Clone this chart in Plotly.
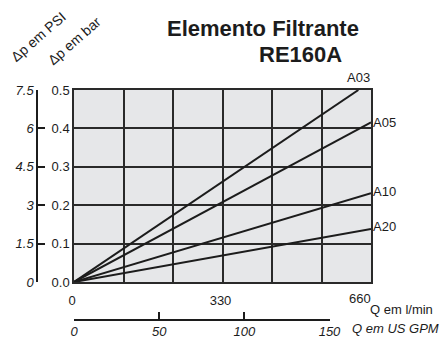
import plotly.graph_objects as go

# ---- data ----
series_names = ["A03", "A05", "A10", "A20"]
series_q = [[0, 632], [0, 660], [0, 660], [0, 660]]          # l/min
series_dp = [[0, 0.5], [0, 0.416], [0, 0.231], [0, 0.138]]  # bar

x_ticks = [0, 110, 220, 330, 440, 550, 660]
x_ticktext = ["0", "", "", "330", "", "", "660"]
bar_ticks = [0, 0.1, 0.2, 0.3, 0.4, 0.5]
bar_ticktext = ["0.0", "0.1", "0.2", "0.3", "0.4", "0.5"]
psi_ticks = [0, 1.5, 3, 4.5, 6, 7.5]
psi_ticktext = ["0", "1.5", "3", "4.5", "6", "7.5"]
gpm_ticks = [0, 50, 100, 150]
gpm_ticktext = ["0", "50", "100", "150"]

FONT = "Liberation Sans, Arial, Helvetica, sans-serif"
INK = "#1c1c1c"
GRID = "#2a2a2a"
BG = "#e6e7e9"

W, H = 441, 340
ML, MR, MT, MB = 37, 70, 90, 21
PW = W - ML - MR
PH = H - MT - MB


def px(x):
    return (x - ML) / PW


def py(y):
    return (H - MB - y) / PH


fig = go.Figure()
for name, q, dp in zip(series_names, series_q, series_dp):
    fig.add_trace(go.Scatter(x=q, y=dp, mode="lines", name=name,
                             line=dict(color=INK, width=2),
                             showlegend=False, hoverinfo="skip"))

# helper traces so the secondary axes are drawn
fig.add_trace(go.Scatter(x=[None], y=[None], xaxis="x2", yaxis="y3",
                         showlegend=False, hoverinfo="skip"))
fig.add_trace(go.Scatter(x=[None], y=[None], xaxis="x", yaxis="y2",
                         showlegend=False, hoverinfo="skip"))

x_dom = [px(74), 1]
y_dom = [py(282), 1]

# last l/min label is nudged left of its tick (as in the original), drawn separately
x_axis_text = x_ticktext[:-1] + [""]

fig.update_layout(
    template="none",
    width=W, height=H,
    margin=dict(l=ML, r=MR, t=MT, b=MB, pad=0, autoexpand=False),
    paper_bgcolor="white",
    plot_bgcolor="rgba(0,0,0,0)",
    font=dict(family=FONT, size=13, color=INK),
    xaxis=dict(domain=x_dom, range=[0, 660], tickvals=x_ticks, ticktext=x_axis_text,
               showgrid=True, gridcolor=GRID, gridwidth=1.5, automargin=False,
               showline=True, linecolor=GRID, linewidth=1.5, mirror=True,
               zeroline=False, ticks="", ticklabelstandoff=6, ticklabelshift=-2,
               tickfont=dict(size=13, color=INK), fixedrange=True),
    yaxis=dict(domain=y_dom, range=[0, 0.5], tickvals=bar_ticks, ticktext=bar_ticktext,
               showgrid=True, gridcolor=GRID, gridwidth=1.5, automargin=False,
               showline=True, linecolor=GRID, linewidth=1.5, mirror=True,
               zeroline=False, ticks="", tickfont=dict(size=13, color=INK),
               fixedrange=True),
    xaxis2=dict(domain=[x_dom[0], px(329.5)], range=[0, 150], anchor="y3",
                tickvals=gpm_ticks, ticktext=gpm_ticktext, automargin=False,
                showgrid=False, zeroline=False, showline=True, linecolor=INK, linewidth=1.5,
                ticks="inside", ticklen=7, tickwidth=1.5, tickcolor=INK,
                tickfont=dict(size=13, color=INK, style="italic"), fixedrange=True),
    yaxis3=dict(domain=[0, 0.005], visible=False, range=[0, 1], fixedrange=True,
                automargin=False),
    yaxis2=dict(overlaying="y", anchor="free", position=0, side="left", range=[0, 7.5],
                tickvals=psi_ticks, ticktext=psi_ticktext, automargin=False,
                showgrid=False, zeroline=False, showline=True, linecolor=INK, linewidth=1.5,
                ticks="inside", ticklen=7, tickwidth=1.5, tickcolor=INK,
                tickfont=dict(size=13, color=INK, style="italic"), fixedrange=True),
)

# light grey plotting area, below gridlines
fig.add_shape(type="rect", xref="x domain", yref="y domain", x0=0, x1=1, y0=0, y1=1,
              fillcolor=BG, line=dict(width=0), layer="below")

# last l/min tick label
fig.add_annotation(x=x_ticks[-1], y=0, xref="x", yref="y", text=x_ticktext[-1],
                   showarrow=False, xanchor="center", yanchor="top",
                   xshift=-11, yshift=-7, font=dict(size=13, color=INK))

# series labels at line ends
label_shift = {"A03": 3, "A05": 0, "A10": 2, "A20": 3}
for name, q, dp in zip(series_names, series_q, series_dp):
    dy = label_shift[name]
    if name == "A03":
        fig.add_annotation(x=q[-1], y=dp[-1], xref="x", yref="y", text=name,
                           showarrow=False, xanchor="center", yanchor="bottom",
                           yshift=dy, font=dict(size=13, color=INK))
    else:
        fig.add_annotation(x=q[-1], y=dp[-1], xref="x", yref="y", text=name,
                           showarrow=False, xanchor="left", yanchor="middle",
                           xshift=0, yshift=dy, font=dict(size=13, color=INK))

# titles and axis captions
fig.add_annotation(x=px(263), y=py(28), xref="paper", yref="paper",
                   text="<b>Elemento Filtrante</b>", showarrow=False,
                   xanchor="center", yanchor="middle", font=dict(size=22, color=INK))
fig.add_annotation(x=px(300), y=py(54), xref="paper", yref="paper",
                   text="<b>RE160A</b>", showarrow=False,
                   xanchor="center", yanchor="middle", font=dict(size=22, color=INK))
fig.add_annotation(x=px(38), y=py(37), xref="paper", yref="paper",
                   text="Δp em PSI", showarrow=False, textangle=-41,
                   xanchor="center", yanchor="middle", font=dict(size=14, color=INK))
fig.add_annotation(x=px(74), y=py(41), xref="paper", yref="paper",
                   text="Δp em bar", showarrow=False, textangle=-41,
                   xanchor="center", yanchor="middle", font=dict(size=14, color=INK))
fig.add_annotation(x=px(368), y=py(309), xref="paper", yref="paper",
                   text="Q em l/min", showarrow=False,
                   xanchor="left", yanchor="middle", font=dict(size=13, color=INK))
fig.add_annotation(x=px(350), y=py(328), xref="paper", yref="paper",
                   text="Q em US GPM", showarrow=False,
                   xanchor="left", yanchor="middle",
                   font=dict(size=13, color=INK, style="italic"))

fig.write_html("out.html", config={"displayModeBar": False})
